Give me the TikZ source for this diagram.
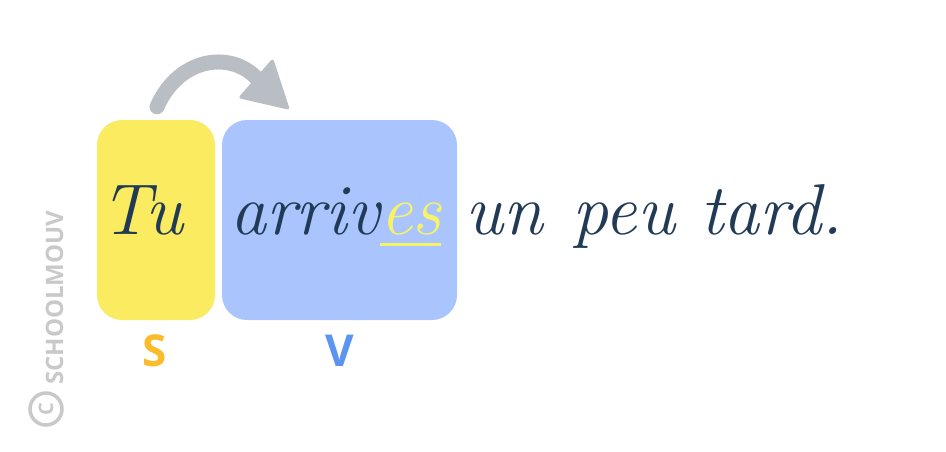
\documentclass[tikz,border=0pt]{standalone}
\usepackage{fontspec}
\newfontfamily\lblfont{Open Sans}
\usepackage{xcolor}
\usetikzlibrary{calc}
\definecolor{boxyellow}{HTML}{FAEB60}
\definecolor{boxblue}{HTML}{AAC4FD}
\definecolor{inknavy}{HTML}{213B56}
\definecolor{endyellow}{HTML}{F6F466}
\definecolor{arrowgray}{HTML}{B8BEC4}
\definecolor{subjorange}{HTML}{FBBC2B}
\definecolor{verbblue}{HTML}{5C94F2}
\definecolor{markgray}{HTML}{C9C9C9}

\begin{document}
\begin{tikzpicture}[x=1pt,y=-1pt,
    word/.style={anchor=base west,inner sep=0pt,text=inknavy,
      font=\fontsize{72}{72}\selectfont\itshape},
    role/.style={inner sep=0pt,font=\lblfont\bfseries\fontsize{44}{44}\selectfont},
    group/.style={rounded corners=25pt,minimum height=200pt,inner sep=0pt}]
      \useasboundingbox (0,0) rectangle (946,451);
      % boxes behind the sentence
      \node (subj) [group,fill=boxyellow,minimum width=118pt] at (156,220) {};
      \node (verb) [group,fill=boxblue,minimum width=235pt] at (339.5,220) {};
      % arrow from subject to verb
      \coordinate (from) at ($(subj.north)+(1,-13)$);
      \coordinate (to) at (260,82);
      \draw [arrowgray,line width=15pt,line cap=round] (from) .. controls (180,55) and (235,50) .. (to);
      \fill [arrowgray,rounded corners=3pt] (273,58) -- (290,110) -- (238,98) -- cycle;
      % the sentence
      \node (tu) [word] at (100,234) {Tu};
      \node (arriv) [word] at (230,234) {arriv};
      \node (es) [word,text=endyellow] at (arriv.base east) {es};
      \draw [endyellow,line width=3pt] ($(es.base west)+(0,10)$) -- ($(es.base east)+(0,10)$);
      \node (un) [word] at (465,234) {un};
      \node (peu) [word] at (572,234) {peu};
      \node (tard) [word] at (700,234) {tard.};
      % labels
      \node (s) [role,text=subjorange] at (155,351) {S};
      \node (v) [role,text=verbblue] at (340,351) {V};
      % watermark
      \node (copy) [circle,draw=markgray,line width=3.5pt,minimum size=32pt,inner sep=0pt,
        rotate=90,text=markgray,font=\lblfont\bfseries\fontsize{20}{20}\selectfont] at (46,409) {C};
      \node (mark) [rotate=90,anchor=base west,inner sep=0pt,text=markgray,
        font=\lblfont\bfseries\fontsize{24}{24}\selectfont] at (63,385) {SCHOOLMOUV};
    \end{tikzpicture}
\end{document}
